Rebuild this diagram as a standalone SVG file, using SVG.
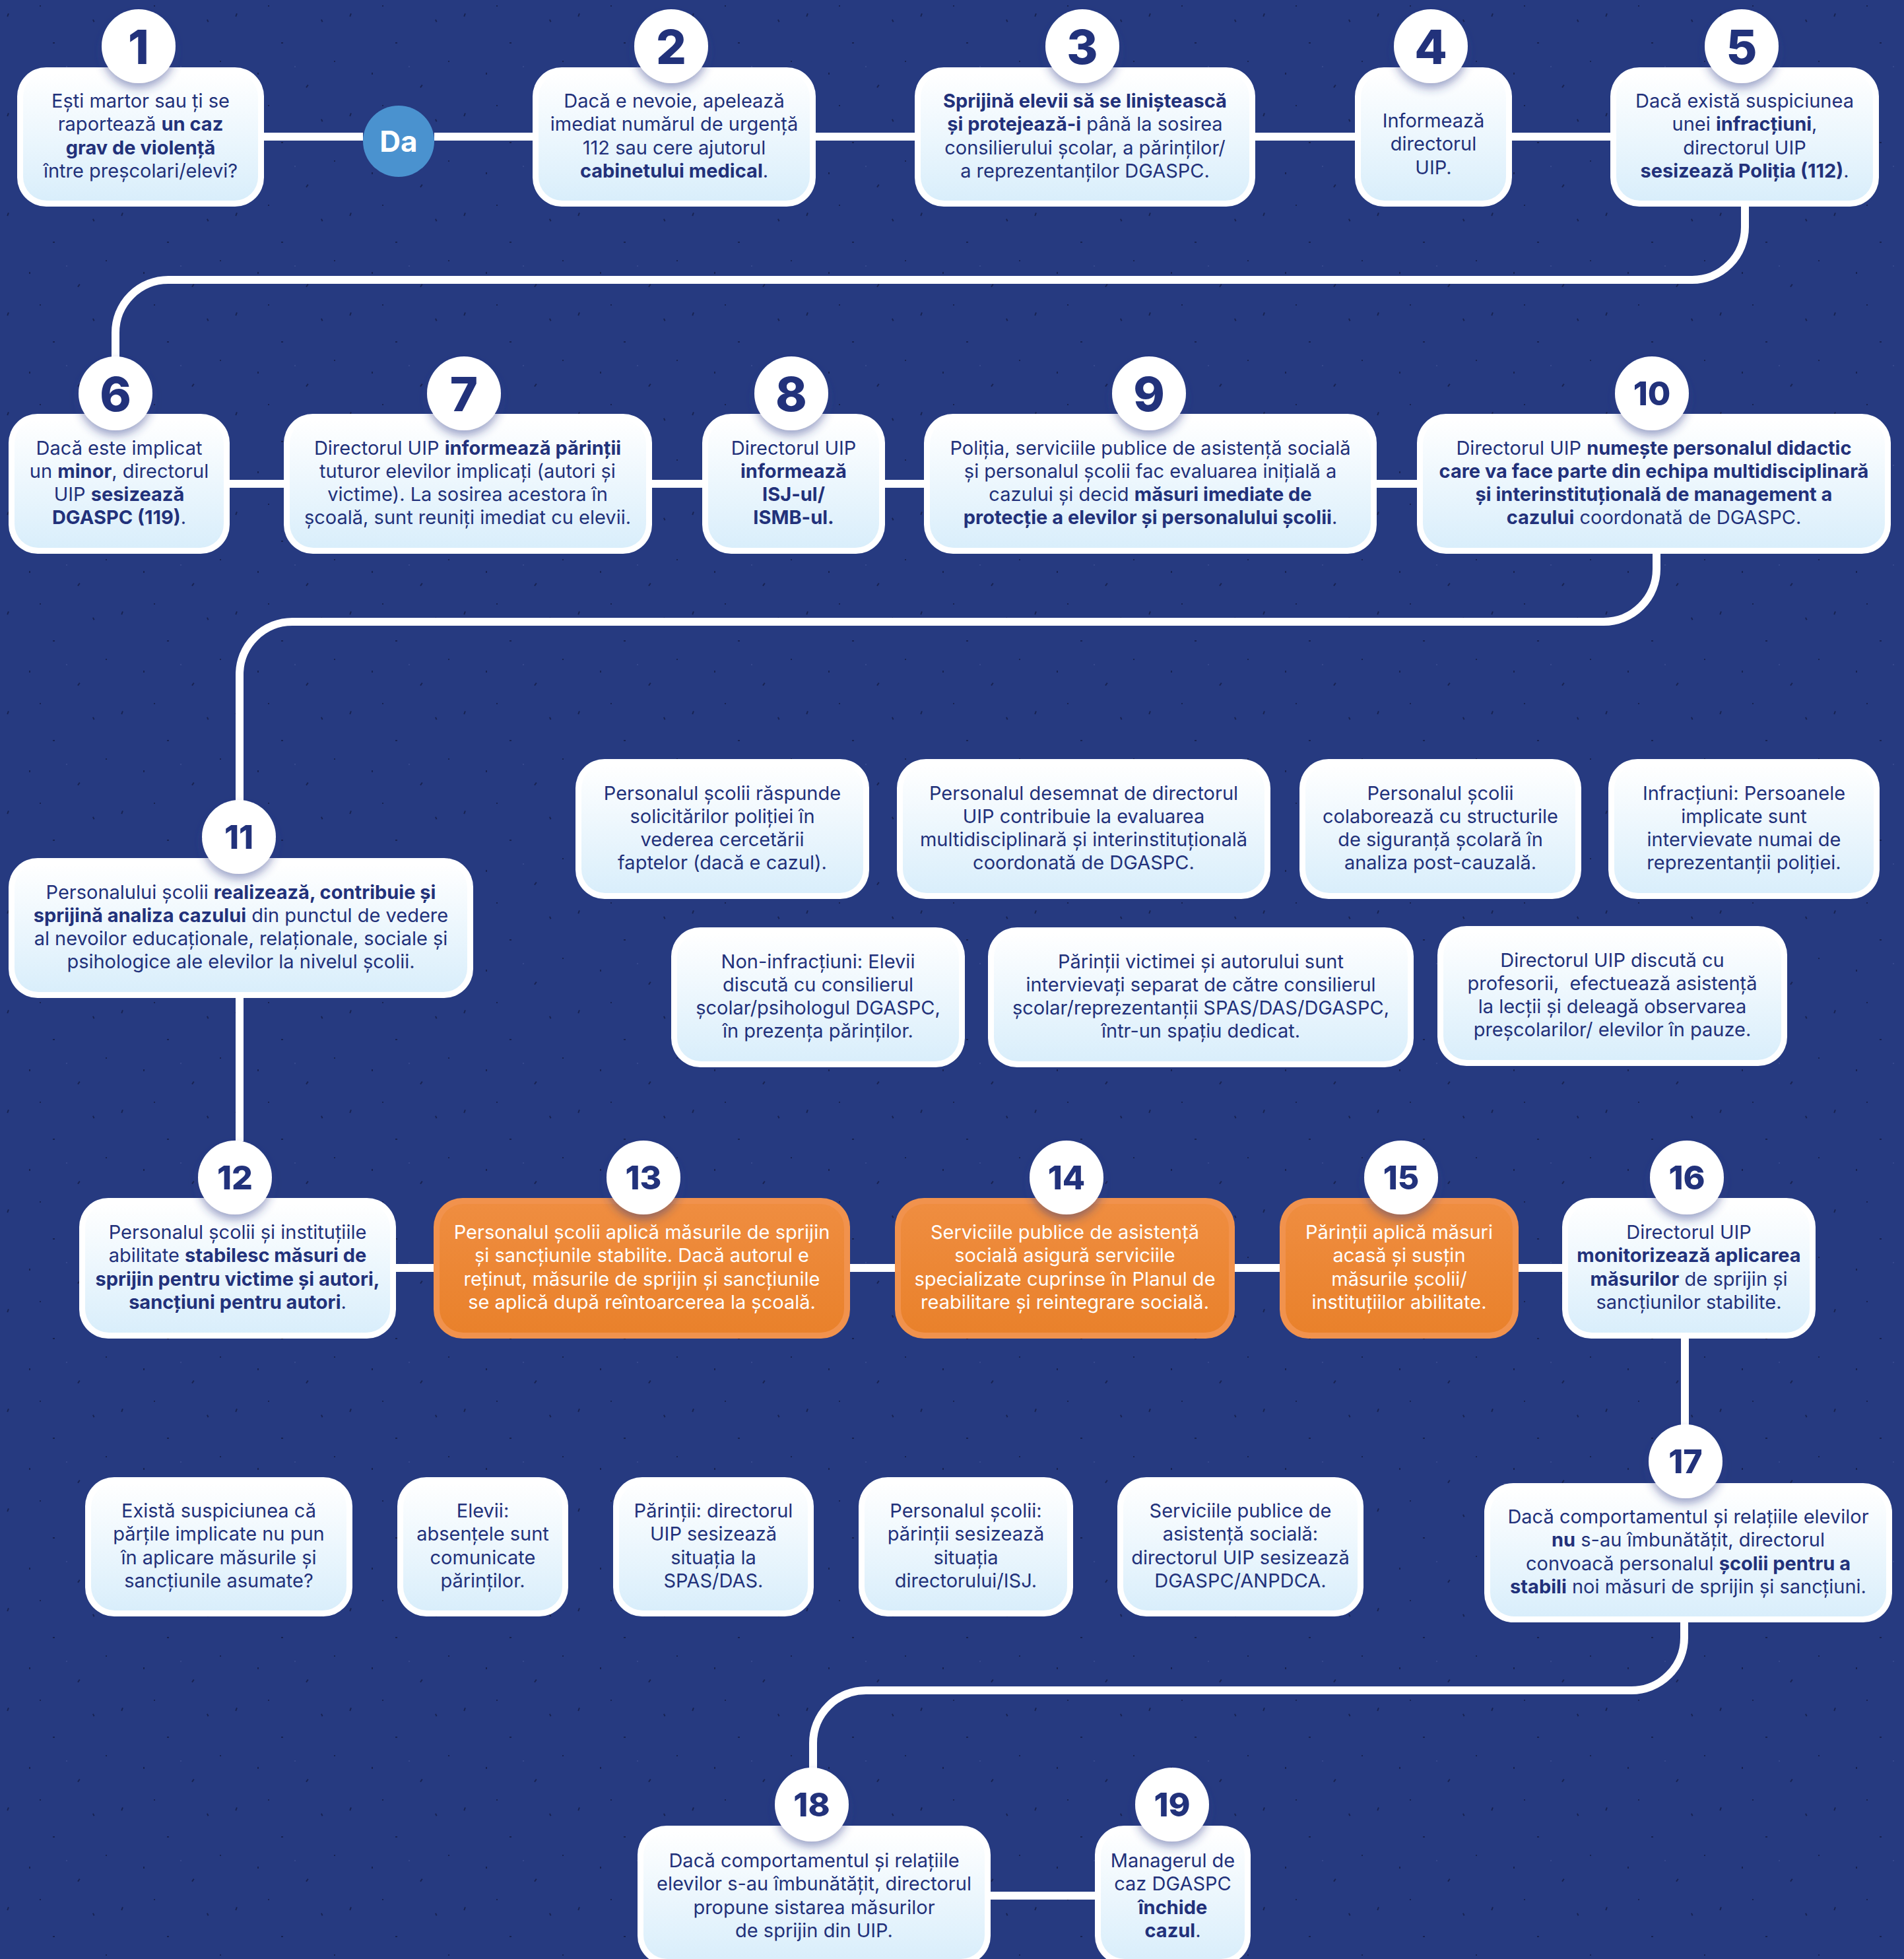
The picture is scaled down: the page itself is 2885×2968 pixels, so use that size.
<svg xmlns="http://www.w3.org/2000/svg" width="2885" height="2968" viewBox="0 0 2885 2968">
<defs>
<linearGradient id="gb" x1="0" y1="0" x2="0" y2="1"><stop offset="0" stop-color="#ffffff"/><stop offset="1" stop-color="#d9eefb"/></linearGradient>
<linearGradient id="go" x1="0" y1="0" x2="0" y2="1"><stop offset="0" stop-color="#ef8d40"/><stop offset="1" stop-color="#e9812b"/></linearGradient>
<filter id="sh" x="-40%" y="-40%" width="180%" height="190%"><feDropShadow dx="0" dy="8" stdDeviation="7" flood-color="#2a3a8a" flood-opacity="0.45"/></filter>
<pattern id="sp" width="173" height="151" patternUnits="userSpaceOnUse">
<rect x="12" y="20" width="2" height="5" fill="#141d48" transform="rotate(20 12 20)"/>
<rect x="80" y="64" width="3" height="2" fill="#141d48"/>
<rect x="140" y="30" width="2" height="4" fill="#141d48" transform="rotate(-25 140 30)"/>
<rect x="44" y="110" width="2" height="3" fill="#141d48"/>
<rect x="120" y="128" width="2" height="5" fill="#141d48" transform="rotate(35 120 128)"/>
<rect x="160" y="92" width="2" height="2" fill="#141d48"/>
<rect x="60" y="8" width="2" height="2" fill="#141d48"/>
<rect x="100" y="100" width="2" height="2" fill="#3a4c90"/>
</pattern>
</defs>
<style>
.ow{fill:#ffffff}
.ib{fill:url(#gb)}
.oo{fill:#f1924d}
.io{fill:url(#go)}
.t{font-family:Inter,"Noto Sans","Liberation Sans",sans-serif;font-size:29px;fill:#22317a;text-anchor:middle}
.w{fill:#ffffff}
.b{font-weight:700}
.n{font-family:Inter,"Noto Sans","Liberation Sans",sans-serif;font-weight:800;fill:#22327b;text-anchor:middle}
.n1{font-size:72px}
.n2{font-size:50px}
.c{fill:#ffffff;filter:url(#sh)}
.ln{fill:none;stroke:#ffffff;stroke-width:12}
</style>
<rect width="2885" height="2968" fill="#263a80"/>
<rect width="2885" height="2968" fill="url(#sp)" opacity="0.8"/>

<g id="connectors">
<path class="ln" d="M400 207H550"/>
<path class="ln" d="M658 207H807"/>
<path class="ln" d="M1236 207H1386"/>
<path class="ln" d="M1902 207H2053"/>
<path class="ln" d="M2291 207H2440"/>
<path class="ln" d="M2644 313V344A80 80 0 0 1 2564 424H255A80 80 0 0 0 175 504V541"/>
<path class="ln" d="M348 733H430"/>
<path class="ln" d="M988 733H1064"/>
<path class="ln" d="M1341 733H1400"/>
<path class="ln" d="M2086 733H2147"/>
<path class="ln" d="M2510 839V862A80 80 0 0 1 2430 942H443A80 80 0 0 0 363 1022V1213"/>
<path class="ln" d="M363 1512V1729"/>
<path class="ln" d="M600 1921H657"/>
<path class="ln" d="M1288 1921H1356"/>
<path class="ln" d="M1871 1921H1939"/>
<path class="ln" d="M2301 1921H2367"/>
<path class="ln" d="M2553 2028V2159"/>
<path class="ln" d="M2552 2458V2481A80 80 0 0 1 2472 2561H1312A80 80 0 0 0 1232 2641V2679"/>
<path class="ln" d="M1501 2872H1659"/>
</g>

<g id="da">
<circle cx="604" cy="214" r="54" fill="#4a92cf"/>
<text x="604" y="230" class="t b w" style="font-size:44px">Da</text>
</g>

<g id="n1">
<rect class="ow" x="26" y="102" width="374" height="211" rx="44"/>
<rect class="ib" x="35" y="111" width="356" height="193" rx="36"/>
<text class="t" x="213" y="163">Ești martor sau ți se</text>
<text class="t" x="213" y="198.3">raportează <tspan class="b">un caz</tspan></text>
<text class="t b" x="213" y="233.6">grav de violență</text>
<text class="t" x="213" y="268.9">între preșcolari/elevi?</text>
<circle class="c" cx="210" cy="70" r="56"/>
<text class="n n1" x="210" y="97">1</text>
</g>

<g id="n2">
<rect class="ow" x="807" y="102" width="429" height="211" rx="44"/>
<rect class="ib" x="816" y="111" width="411" height="193" rx="36"/>
<text class="t" x="1021.5" y="163">Dacă e nevoie, apelează</text>
<text class="t" x="1021.5" y="198.3">imediat numărul de urgență</text>
<text class="t" x="1021.5" y="233.6">112 sau cere ajutorul</text>
<text class="t" x="1021.5" y="268.9"><tspan class="b">cabinetului medical</tspan>.</text>
<circle class="c" cx="1017" cy="70" r="56"/>
<text class="n n1" x="1017" y="97">2</text>
</g>

<g id="n3">
<rect class="ow" x="1386" y="102" width="516" height="211" rx="44"/>
<rect class="ib" x="1395" y="111" width="498" height="193" rx="36"/>
<text class="t b" x="1644" y="163">Sprijină elevii să se liniștească</text>
<text class="t" x="1644" y="198.3"><tspan class="b">și protejează-i</tspan> până la sosirea</text>
<text class="t" x="1644" y="233.6">consilierului școlar, a părinților/</text>
<text class="t" x="1644" y="268.9">a reprezentanților DGASPC.</text>
<circle class="c" cx="1640" cy="70" r="56"/>
<text class="n n1" x="1640" y="97">3</text>
</g>

<g id="n4">
<rect class="ow" x="2053" y="102" width="238" height="211" rx="44"/>
<rect class="ib" x="2062" y="111" width="220" height="193" rx="36"/>
<text class="t" x="2172" y="193">Informează</text>
<text class="t" x="2172" y="228.3">directorul</text>
<text class="t" x="2172" y="263.6">UIP.</text>
<circle class="c" cx="2168" cy="70" r="56"/>
<text class="n n1" x="2168" y="97">4</text>
</g>

<g id="n5">
<rect class="ow" x="2440" y="102" width="407" height="211" rx="44"/>
<rect class="ib" x="2449" y="111" width="389" height="193" rx="36"/>
<text class="t" x="2643.5" y="163">Dacă există suspiciunea</text>
<text class="t" x="2643.5" y="198.3">unei <tspan class="b">infracțiuni</tspan>,</text>
<text class="t" x="2643.5" y="233.6">directorul UIP</text>
<text class="t" x="2643.5" y="268.9"><tspan class="b">sesizează Poliția (112)</tspan>.</text>
<circle class="c" cx="2639" cy="70" r="56"/>
<text class="n n1" x="2639" y="97">5</text>
</g>

<g id="n6">
<rect class="ow" x="13" y="627" width="335" height="212" rx="44"/>
<rect class="ib" x="22" y="636" width="317" height="194" rx="36"/>
<text class="t" x="180.5" y="688.5">Dacă este implicat</text>
<text class="t" x="180.5" y="723.8">un <tspan class="b">minor</tspan>, directorul</text>
<text class="t" x="180.5" y="759.1">UIP <tspan class="b">sesizează</tspan></text>
<text class="t" x="180.5" y="794.4"><tspan class="b">DGASPC (119)</tspan>.</text>
<circle class="c" cx="175" cy="596" r="56"/>
<text class="n n1" x="175" y="623">6</text>
</g>

<g id="n7">
<rect class="ow" x="430" y="627" width="558" height="212" rx="44"/>
<rect class="ib" x="439" y="636" width="540" height="194" rx="36"/>
<text class="t" x="708.5" y="688.5">Directorul UIP <tspan class="b">informează părinții</tspan></text>
<text class="t" x="708.5" y="723.8">tuturor elevilor implicați (autori și</text>
<text class="t" x="708.5" y="759.1">victime). La sosirea acestora în</text>
<text class="t" x="708.5" y="794.4">școală, sunt reuniți imediat cu elevii.</text>
<circle class="c" cx="703" cy="596" r="56"/>
<text class="n n1" x="703" y="623">7</text>
</g>

<g id="n8">
<rect class="ow" x="1064" y="627" width="277" height="212" rx="44"/>
<rect class="ib" x="1073" y="636" width="259" height="194" rx="36"/>
<text class="t" x="1202.5" y="688.5">Directorul UIP</text>
<text class="t b" x="1202.5" y="723.8">informează</text>
<text class="t b" x="1202.5" y="759.1">ISJ-ul/</text>
<text class="t b" x="1202.5" y="794.4">ISMB-ul.</text>
<circle class="c" cx="1199" cy="596" r="56"/>
<text class="n n1" x="1199" y="623">8</text>
</g>

<g id="n9">
<rect class="ow" x="1400" y="627" width="686" height="212" rx="44"/>
<rect class="ib" x="1409" y="636" width="668" height="194" rx="36"/>
<text class="t" x="1743" y="688.5">Poliția, serviciile publice de asistență socială</text>
<text class="t" x="1743" y="723.8">și personalul școlii fac evaluarea inițială a</text>
<text class="t" x="1743" y="759.1">cazului și decid <tspan class="b">măsuri imediate de</tspan></text>
<text class="t" x="1743" y="794.4"><tspan class="b">protecție a elevilor și personalului școlii</tspan>.</text>
<circle class="c" cx="1741" cy="596" r="56"/>
<text class="n n1" x="1741" y="623">9</text>
</g>

<g id="n10">
<rect class="ow" x="2147" y="627" width="718" height="212" rx="44"/>
<rect class="ib" x="2156" y="636" width="700" height="194" rx="36"/>
<text class="t" x="2506" y="688.5">Directorul UIP <tspan class="b">numește personalul didactic</tspan></text>
<text class="t b" x="2506" y="723.8">care va face parte din echipa multidisciplinară</text>
<text class="t b" x="2506" y="759.1">și interinstituțională de management a</text>
<text class="t" x="2506" y="794.4"><tspan class="b">cazului</tspan> coordonată de DGASPC.</text>
<circle class="c" cx="2503" cy="596" r="56"/>
<text class="n n2" x="2503" y="614">10</text>
</g>

<g id="n11">
<rect class="ow" x="13" y="1300" width="704" height="212" rx="44"/>
<rect class="ib" x="22" y="1309" width="686" height="194" rx="36"/>
<text class="t" x="365" y="1361.5">Personalului școlii <tspan class="b">realizează, contribuie și</tspan></text>
<text class="t" x="365" y="1396.8"><tspan class="b">sprijină analiza cazului</tspan> din punctul de vedere</text>
<text class="t" x="365" y="1432.1">al nevoilor educaționale, relaționale, sociale și</text>
<text class="t" x="365" y="1467.4">psihologice ale elevilor la nivelul școlii.</text>
<circle class="c" cx="362" cy="1268" r="56"/>
<text class="n n2" x="362" y="1286">11</text>
</g>

<g id="a1">
<rect class="ow" x="872" y="1150" width="445" height="212" rx="44"/>
<rect class="ib" x="881" y="1159" width="427" height="194" rx="36"/>
<text class="t" x="1094.5" y="1211.5">Personalul școlii răspunde</text>
<text class="t" x="1094.5" y="1246.8">solicitărilor poliției în</text>
<text class="t" x="1094.5" y="1282.1">vederea cercetării</text>
<text class="t" x="1094.5" y="1317.4">faptelor (dacă e cazul).</text>
</g>

<g id="a2">
<rect class="ow" x="1359" y="1150" width="566" height="212" rx="44"/>
<rect class="ib" x="1368" y="1159" width="548" height="194" rx="36"/>
<text class="t" x="1642" y="1211.5">Personalul desemnat de directorul</text>
<text class="t" x="1642" y="1246.8">UIP contribuie la evaluarea</text>
<text class="t" x="1642" y="1282.1">multidisciplinară și interinstituțională</text>
<text class="t" x="1642" y="1317.4">coordonată de DGASPC.</text>
</g>

<g id="a3">
<rect class="ow" x="1969" y="1150" width="427" height="212" rx="44"/>
<rect class="ib" x="1978" y="1159" width="409" height="194" rx="36"/>
<text class="t" x="2182.5" y="1211.5">Personalul școlii</text>
<text class="t" x="2182.5" y="1246.8">colaborează cu structurile</text>
<text class="t" x="2182.5" y="1282.1">de siguranță școlară în</text>
<text class="t" x="2182.5" y="1317.4">analiza post-cauzală.</text>
</g>

<g id="a4">
<rect class="ow" x="2437" y="1150" width="411" height="212" rx="44"/>
<rect class="ib" x="2446" y="1159" width="393" height="194" rx="36"/>
<text class="t" x="2642.5" y="1211.5">Infracțiuni: Persoanele</text>
<text class="t" x="2642.5" y="1246.8">implicate sunt</text>
<text class="t" x="2642.5" y="1282.1">intervievate numai de</text>
<text class="t" x="2642.5" y="1317.4">reprezentanții poliției.</text>
</g>

<g id="b1">
<rect class="ow" x="1017" y="1405" width="445" height="212" rx="44"/>
<rect class="ib" x="1026" y="1414" width="427" height="194" rx="36"/>
<text class="t" x="1239.5" y="1466.5">Non-infracțiuni: Elevii</text>
<text class="t" x="1239.5" y="1501.8">discută cu consilierul</text>
<text class="t" x="1239.5" y="1537.1">școlar/psihologul DGASPC,</text>
<text class="t" x="1239.5" y="1572.4">în prezența părinților.</text>
</g>

<g id="b2">
<rect class="ow" x="1497" y="1405" width="645" height="212" rx="44"/>
<rect class="ib" x="1506" y="1414" width="627" height="194" rx="36"/>
<text class="t" x="1819.5" y="1466.5">Părinții victimei și autorului sunt</text>
<text class="t" x="1819.5" y="1501.8">intervievați separat de către consilierul</text>
<text class="t" x="1819.5" y="1537.1">școlar/reprezentanții SPAS/DAS/DGASPC,</text>
<text class="t" x="1819.5" y="1572.4">într-un spațiu dedicat.</text>
</g>

<g id="b3">
<rect class="ow" x="2178" y="1403" width="530" height="212" rx="44"/>
<rect class="ib" x="2187" y="1412" width="512" height="194" rx="36"/>
<text class="t" x="2443" y="1464.5">Directorul UIP discută cu</text>
<text class="t" x="2443" y="1499.8" xml:space="preserve">profesorii,  efectuează asistență</text>
<text class="t" x="2443" y="1535.1">la lecții și deleagă observarea</text>
<text class="t" x="2443" y="1570.4">preșcolarilor/ elevilor în pauze.</text>
</g>

<g id="n12">
<rect class="ow" x="120" y="1815" width="480" height="213" rx="44"/>
<rect class="ib" x="129" y="1824" width="462" height="195" rx="36"/>
<text class="t" x="360" y="1877">Personalul școlii și instituțiile</text>
<text class="t" x="360" y="1912.3">abilitate <tspan class="b">stabilesc măsuri de</tspan></text>
<text class="t b" x="360" y="1947.6">sprijin pentru victime și autori,</text>
<text class="t" x="360" y="1982.9"><tspan class="b">sancțiuni pentru autori</tspan>.</text>
<circle class="c" cx="356" cy="1784" r="56"/>
<text class="n n2" x="356" y="1802">12</text>
</g>

<g id="n13">
<rect class="oo" x="657" y="1815" width="631" height="213" rx="44"/>
<rect class="io" x="666" y="1824" width="613" height="195" rx="36"/>
<text class="t w" x="972.5" y="1877">Personalul școlii aplică măsurile de sprijin</text>
<text class="t w" x="972.5" y="1912.3">și sancțiunile stabilite. Dacă autorul e</text>
<text class="t w" x="972.5" y="1947.6">reținut, măsurile de sprijin și sancțiunile</text>
<text class="t w" x="972.5" y="1982.9">se aplică după reîntoarcerea la școală.</text>
<circle class="c" cx="975" cy="1784" r="56"/>
<text class="n n2" x="975" y="1802">13</text>
</g>

<g id="n14">
<rect class="oo" x="1356" y="1815" width="515" height="213" rx="44"/>
<rect class="io" x="1365" y="1824" width="497" height="195" rx="36"/>
<text class="t w" x="1613.5" y="1877">Serviciile publice de asistență</text>
<text class="t w" x="1613.5" y="1912.3">socială asigură serviciile</text>
<text class="t w" x="1613.5" y="1947.6">specializate cuprinse în Planul de</text>
<text class="t w" x="1613.5" y="1982.9">reabilitare și reintegrare socială.</text>
<circle class="c" cx="1616" cy="1784" r="56"/>
<text class="n n2" x="1616" y="1802">14</text>
</g>

<g id="n15">
<rect class="oo" x="1939" y="1815" width="362" height="213" rx="44"/>
<rect class="io" x="1948" y="1824" width="344" height="195" rx="36"/>
<text class="t w" x="2120" y="1877">Părinții aplică măsuri</text>
<text class="t w" x="2120" y="1912.3">acasă și susțin</text>
<text class="t w" x="2120" y="1947.6">măsurile școlii/</text>
<text class="t w" x="2120" y="1982.9">instituțiilor abilitate.</text>
<circle class="c" cx="2123" cy="1784" r="56"/>
<text class="n n2" x="2123" y="1802">15</text>
</g>

<g id="n16">
<rect class="ow" x="2367" y="1815" width="384" height="213" rx="44"/>
<rect class="ib" x="2376" y="1824" width="366" height="195" rx="36"/>
<text class="t" x="2559" y="1877">Directorul UIP</text>
<text class="t b" x="2559" y="1912.3">monitorizează aplicarea</text>
<text class="t" x="2559" y="1947.6"><tspan class="b">măsurilor</tspan> de sprijin și</text>
<text class="t" x="2559" y="1982.9">sancțiunilor stabilite.</text>
<circle class="c" cx="2556" cy="1784" r="56"/>
<text class="n n2" x="2556" y="1802">16</text>
</g>

<g id="c1">
<rect class="ow" x="129" y="2238" width="405" height="211" rx="44"/>
<rect class="ib" x="138" y="2247" width="387" height="193" rx="36"/>
<text class="t" x="331.5" y="2299">Există suspiciunea că</text>
<text class="t" x="331.5" y="2334.3">părțile implicate nu pun</text>
<text class="t" x="331.5" y="2369.6">în aplicare măsurile și</text>
<text class="t" x="331.5" y="2404.9">sancțiunile asumate?</text>
</g>

<g id="c2">
<rect class="ow" x="602" y="2238" width="259" height="211" rx="44"/>
<rect class="ib" x="611" y="2247" width="241" height="193" rx="36"/>
<text class="t" x="731.5" y="2299">Elevii:</text>
<text class="t" x="731.5" y="2334.3">absențele sunt</text>
<text class="t" x="731.5" y="2369.6">comunicate</text>
<text class="t" x="731.5" y="2404.9">părinților.</text>
</g>

<g id="c3">
<rect class="ow" x="929" y="2238" width="304" height="211" rx="44"/>
<rect class="ib" x="938" y="2247" width="286" height="193" rx="36"/>
<text class="t" x="1081" y="2299">Părinții: directorul</text>
<text class="t" x="1081" y="2334.3">UIP sesizează</text>
<text class="t" x="1081" y="2369.6">situația la</text>
<text class="t" x="1081" y="2404.9">SPAS/DAS.</text>
</g>

<g id="c4">
<rect class="ow" x="1301" y="2238" width="325" height="211" rx="44"/>
<rect class="ib" x="1310" y="2247" width="307" height="193" rx="36"/>
<text class="t" x="1463.5" y="2299">Personalul școlii:</text>
<text class="t" x="1463.5" y="2334.3">părinții sesizează</text>
<text class="t" x="1463.5" y="2369.6">situația</text>
<text class="t" x="1463.5" y="2404.9">directorului/ISJ.</text>
</g>

<g id="c5">
<rect class="ow" x="1693" y="2238" width="373" height="211" rx="44"/>
<rect class="ib" x="1702" y="2247" width="355" height="193" rx="36"/>
<text class="t" x="1879.5" y="2299">Serviciile publice de</text>
<text class="t" x="1879.5" y="2334.3">asistență socială:</text>
<text class="t" x="1879.5" y="2369.6">directorul UIP sesizează</text>
<text class="t" x="1879.5" y="2404.9">DGASPC/ANPDCA.</text>
</g>

<g id="n17">
<rect class="ow" x="2249" y="2247" width="618" height="211" rx="44"/>
<rect class="ib" x="2258" y="2256" width="600" height="193" rx="36"/>
<text class="t" x="2558" y="2308">Dacă comportamentul și relațiile elevilor</text>
<text class="t" x="2558" y="2343.3"><tspan class="b">nu</tspan> s-au îmbunătățit, directorul</text>
<text class="t" x="2558" y="2378.6">convoacă personalul <tspan class="b">școlii pentru a</tspan></text>
<text class="t" x="2558" y="2413.9"><tspan class="b">stabili</tspan> noi măsuri de sprijin și sancțiuni.</text>
<circle class="c" cx="2554" cy="2214" r="56"/>
<text class="n n2" x="2554" y="2232">17</text>
</g>

<g id="n18">
<rect class="ow" x="966" y="2766" width="535" height="211" rx="44"/>
<rect class="ib" x="975" y="2775" width="517" height="193" rx="36"/>
<text class="t" x="1233.5" y="2829">Dacă comportamentul și relațiile</text>
<text class="t" x="1233.5" y="2864.3">elevilor s-au îmbunătățit, directorul</text>
<text class="t" x="1233.5" y="2899.6">propune sistarea măsurilor</text>
<text class="t" x="1233.5" y="2934.9">de sprijin din UIP.</text>
<circle class="c" cx="1230" cy="2734" r="56"/>
<text class="n n2" x="1230" y="2752">18</text>
</g>

<g id="n19">
<rect class="ow" x="1659" y="2766" width="236" height="211" rx="44"/>
<rect class="ib" x="1668" y="2775" width="218" height="193" rx="36"/>
<text class="t" x="1777" y="2829">Managerul de</text>
<text class="t" x="1777" y="2864.3">caz DGASPC</text>
<text class="t b" x="1777" y="2899.6">închide</text>
<text class="t" x="1777" y="2934.9"><tspan class="b">cazul</tspan>.</text>
<circle class="c" cx="1776" cy="2734" r="56"/>
<text class="n n2" x="1776" y="2752">19</text>
</g>
</svg>
